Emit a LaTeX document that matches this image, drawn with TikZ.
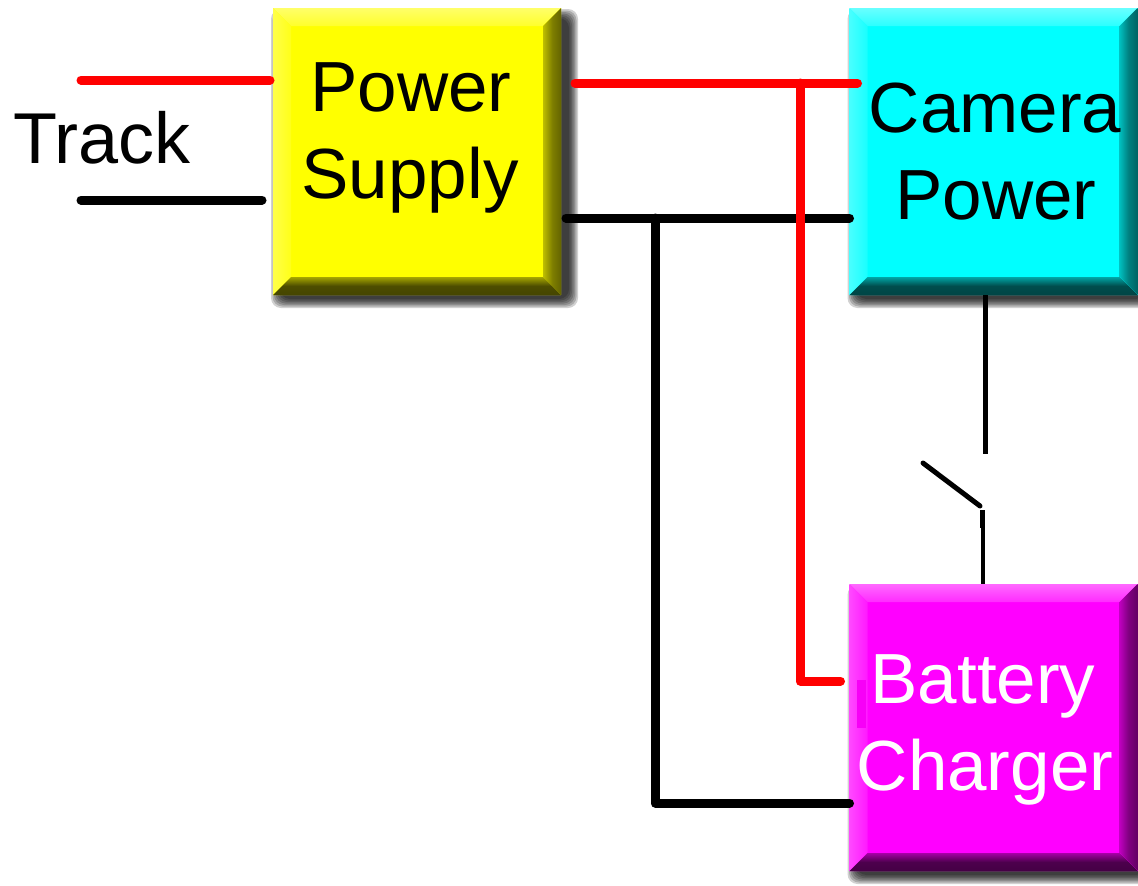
\documentclass[tikz,border=0pt]{standalone}
\usepackage{fontspec}
\setmainfont{Liberation Sans}
\usetikzlibrary{backgrounds,calc}
\definecolor{boxyellow}{RGB}{255,255,0}
\definecolor{boxcyan}{RGB}{0,255,255}
\definecolor{boxmagenta}{RGB}{255,0,255}
\definecolor{wirered}{RGB}{255,0,0}
\tikzset{
  bevelbox/.style={
    minimum width=288pt, minimum height=287pt, inner sep=0pt, outer sep=0pt, fill=#1,
    path picture={
      \coordinate (NW) at (path picture bounding box.north west);
      \coordinate (NE) at (path picture bounding box.north east);
      \coordinate (SW) at (path picture bounding box.south west);
      \coordinate (SE) at (path picture bounding box.south east);
      % left
      \begin{scope}
        \clip (NW) -- ([shift={(18pt,-18pt)}]NW) -- ([shift={(18pt,18pt)}]SW) -- (SW) -- cycle;
        \fill[left color=#1!62!white, right color=#1] ([xshift=-9pt]NW) rectangle ([xshift=27pt]SW);
      \end{scope}
      % top
      \begin{scope}
        \clip (NW) -- (NE) -- ([shift={(-18pt,-18pt)}]NE) -- ([shift={(18pt,-18pt)}]NW) -- cycle;
        \fill[top color=#1!45!white, bottom color=#1] ([yshift=10pt]NW) rectangle ([yshift=-30pt]NE);
      \end{scope}
      % right
      \begin{scope}
        \clip (NE) -- (SE) -- ([shift={(-18pt,18pt)}]SE) -- ([shift={(-18pt,-18pt)}]NE) -- cycle;
        \fill[left color=#1, right color=#1!28!black, middle color=#1!50!black] ([xshift=-27pt]NE) rectangle ([xshift=9pt]SE);
      \end{scope}
      % bottom
      \begin{scope}
        \clip (SW) -- (SE) -- ([shift={(-18pt,18pt)}]SE) -- ([shift={(18pt,18pt)}]SW) -- cycle;
        \fill[top color=#1, bottom color=#1!24!black, middle color=#1!30!black] ([yshift=27pt]SW) rectangle ([yshift=-9pt]SE);
      \end{scope}
    }},
  label text/.style={anchor=base, inner sep=0pt, font=\fontsize{71}{86}\selectfont},
  redwire/.style={draw=wirered, line width=9pt, line cap=round, line join=round},
  blackwire/.style={draw=black, line width=9pt, line cap=round, line join=round},
  thinwire/.style={draw=black, line width=5pt},
  lowerwire/.style={draw=black, line width=4.5pt},
  armwire/.style={draw=black, line width=5pt, line cap=round},
}
\newcommand{\softshadow}[1]{%
  \begin{scope}[on background layer]
    \foreach \d in {8,6.5,5,3.5,2,0.5,-1}{
      \fill[black, opacity=0.18, rounded corners=10pt]
        ($(#1.north west)+(6-\d,9-\d)$) rectangle ($(#1.south east)+(9+\d,5+\d)$);
    }
  \end{scope}}
\begin{document}
\begin{tikzpicture}[x=1pt,y=-1pt]
  \useasboundingbox (0,0) rectangle (1138,886);
  \begin{scope}[on background layer]
    \fill[white] (0,0) rectangle (1138,886);
  \end{scope}

  % boxes
  \node[bevelbox=boxyellow]  (ps)  at (417,151.5) {};
  \node[bevelbox=boxcyan]    (cam) at (993.5,151.5) {};
  \node[bevelbox=boxmagenta] (bat) at (993.5,727.5) {};
  \softshadow{ps}
  \softshadow{cam}
  \softshadow{bat}

  % faint patch on the charger
  \fill[boxmagenta!97!black] (857,680) rectangle (866,728);

  % free wire ends and junctions
  \coordinate (trackRed)   at (81,80);
  \coordinate (trackBlack) at (81,200);
  \coordinate (redJoin)    at (800,83);
  \coordinate (blackJoin)  at (655,218);
  \coordinate (armTop)     at (923,463);
  \coordinate (armPivot)   at (980,506);
  \coordinate (contact)    at (985,454);
  \coordinate (lowerTop)   at (983,510);

  % black wiring
  \draw[blackwire] (trackBlack) -- ([shift={(-11pt,-48.5pt)}]ps.west);
  \draw[blackwire] ([shift={(5pt,-66.5pt)}]ps.east) -- (cam.west |- blackJoin);
  \draw[blackwire] (blackJoin) -- (blackJoin |- 0,803) -- ([shift={(0pt,-75.5pt)}]bat.west);

  % red wiring
  \draw[redwire] (trackRed) -- ([shift={(-3pt,71.5pt)}]ps.west);
  \draw[redwire] ([shift={(14pt,68.5pt)}]ps.east) -- ([shift={(8pt,68.5pt)}]cam.west);
  \draw[redwire] (redJoin) -- (redJoin |- 0,681) -- ([shift={(-9pt,46.5pt)}]bat.west);

  % switch wiring
  \draw[thinwire] (cam.south -| contact) -- (contact);
  \draw[armwire] (armTop) -- (armPivot);
  \fill[black] (979.5,510) rectangle (984,528);
  \draw[lowerwire] (lowerTop) -- (bat.north -| lowerTop);

  % labels
  \node[label text] (trackT) at (102,163) {\fontsize{72}{86}\selectfont Track};
  \node[label text] (psA)  at (411,111) {Power};
  \node[label text] (psB)  at (410,198) {Supply};
  \node[label text] (camA) at (995,132) {Camera};
  \node[label text] (camB) at (996,219) {Power};
  \node[label text, text=white] (batA) at (983,703) {Battery};
  \node[label text, text=white] (batB) at (985,790) {Charger};
\end{tikzpicture}
\end{document}
